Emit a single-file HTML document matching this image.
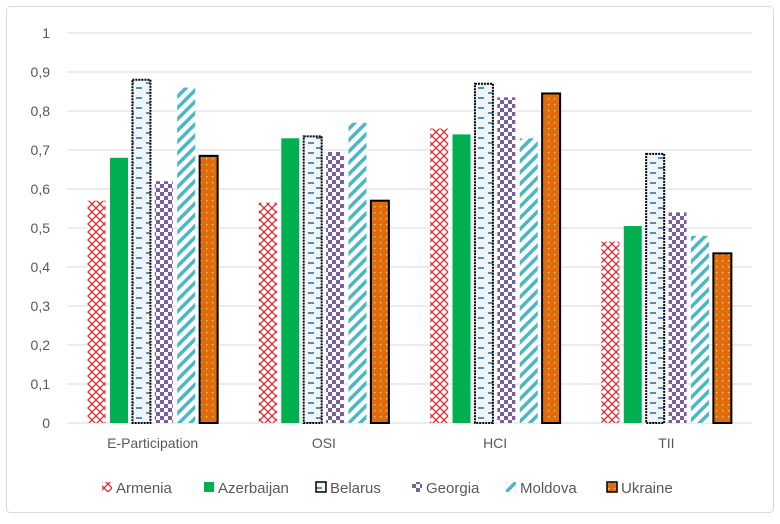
<!DOCTYPE html>
<html><head><meta charset="utf-8"><style>
body{margin:0;background:#fff;font-family:"Liberation Sans",sans-serif}
</style></head><body>
<svg id="chart" width="780" height="519" xmlns="http://www.w3.org/2000/svg">
<defs>
<pattern id="p0" width="8" height="8" patternUnits="userSpaceOnUse"><rect width="8" height="8" fill="#fff"/><path d="M0,0L8,8M8,0L0,8" stroke="#e8262c" stroke-width="1.3"/></pattern>
<pattern id="p2" width="18" height="10" patternUnits="userSpaceOnUse"><rect width="18" height="10" fill="#eef6fb"/><path d="M2,3h6M10,8h6" stroke="#2a6a9a" stroke-width="1.5"/></pattern>
<pattern id="p3" width="8" height="8" patternUnits="userSpaceOnUse"><rect width="8" height="8" fill="#fff"/><rect width="4" height="4" fill="#7a5fa0"/><rect x="4" y="4" width="4" height="4" fill="#7a5fa0"/></pattern>
<pattern id="p4" width="8" height="8" patternUnits="userSpaceOnUse" patternTransform="rotate(45)"><rect width="8" height="8" fill="#fff"/><rect width="3.5" height="8" fill="#4ab8c4"/></pattern>
<pattern id="p5" width="6" height="6" patternUnits="userSpaceOnUse"><rect width="6" height="6" fill="#e36c0a"/><rect x="2" y="2" width="1.3" height="1.3" fill="#fbd3a8"/></pattern>
</defs>
<rect x="6.5" y="6.5" width="767" height="506" rx="4" fill="#fff" stroke="#d9d9d9"/>
<g id="grid"></g><g id="bars"></g><g id="labels"></g><g id="legend"></g>
</svg>
<script>
const categories=["E-Participation","OSI","HCI","TII"];
const seriesNames=["Armenia","Azerbaijan","Belarus","Georgia","Moldova","Ukraine"];
const armenia=[0.57,0.565,0.755,0.465];
const azerbaijan=[0.68,0.73,0.74,0.505];
const belarus=[0.88,0.735,0.87,0.69];
const georgia=[0.62,0.695,0.835,0.54];
const moldova=[0.86,0.77,0.73,0.48];
const ukraine=[0.685,0.57,0.845,0.435];
const yTicks=["0","0,1","0,2","0,3","0,4","0,5","0,6","0,7","0,8","0,9","1"];
const series=[armenia,azerbaijan,belarus,georgia,moldova,ukraine];
const fills=["url(#p0)","#00b050","url(#p2)","url(#p3)","url(#p4)","url(#p5)"];
const strokes=["none","none","#000","none","none","#000"];
const NS="http://www.w3.org/2000/svg";
const x0=67,x1=752,yB=423,yT=33;
const y=v=>yB-(yB-yT)*v;
const gw=(x1-x0)/categories.length;
function mk(t,a,p){const e=document.createElementNS(NS,t);for(const k in a)e.setAttribute(k,a[k]);p.appendChild(e);return e;}
const grid=document.getElementById('grid'),bars=document.getElementById('bars'),labels=document.getElementById('labels'),legend=document.getElementById('legend');
yTicks.forEach((t,i)=>{const v=i/10;
 const l=mk('line',{x1:x0,x2:x1,y1:y(v),y2:y(v),stroke:'#d9d9d9','stroke-width':1},grid);
 
 
 const tx=mk('text',{x:50,y:y(v)+5,'text-anchor':'end','font-size':14,fill:'#595959'},labels);tx.textContent=t;
 
 
});
categories.forEach((c,ci)=>{
 const cx=x0+gw*(ci+0.5);
 series.forEach((s,si)=>{
  const bx=cx+(si-2.5)*22.4-9;
  const r=mk('rect',{x:bx,y:y(s[ci]),width:18,height:yB-y(s[ci]),fill:fills[si],stroke:strokes[si],'stroke-width':strokes[si]=='none'?0:2,'stroke-dasharray':si==2?'2,1':'none'},bars);
  
  
 });
 const t=mk('text',{x:cx,y:448,'text-anchor':'middle','font-size':14,fill:'#595959'},labels);t.textContent=c;
 
 
});
const lx=[102,204,316,412,506,607];
seriesNames.forEach((n,i)=>{
 const g=mk('g',{},legend);
 
 
 mk('rect',{x:lx[i],y:482,width:10,height:10,fill:fills[i],stroke:strokes[i],'stroke-width':strokes[i]=='none'?0:1.5},g);
 const t=mk('text',{x:lx[i]+14,y:493,'font-size':15,fill:'#595959'},g);t.textContent=n;
});
</script>
</body></html>
